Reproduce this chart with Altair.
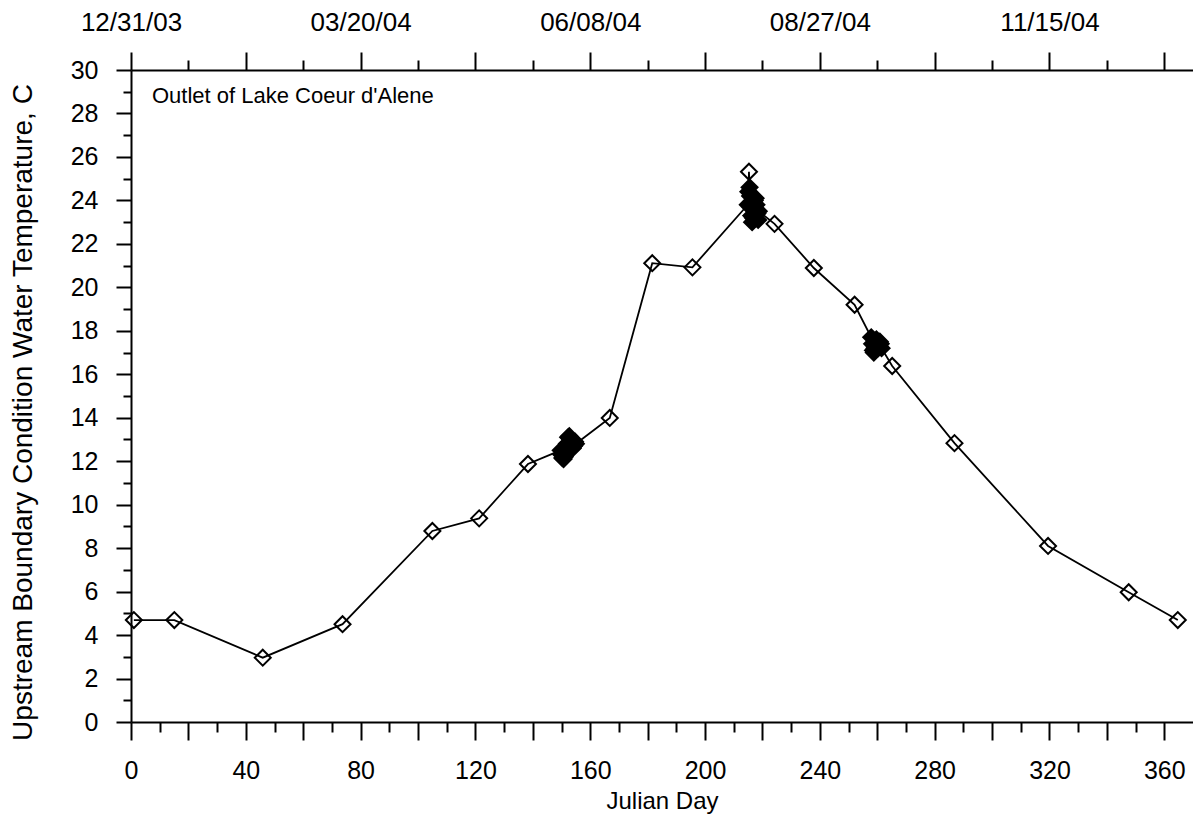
import altair as alt
import pandas as pd

# ---- data ----
spot_day = [1.0, 15.1, 45.9, 73.7, 105.0, 121.3, 138.3, 166.8, 181.6, 195.6,
            215.3, 224.2, 237.9, 252.1, 265.2, 286.9, 319.5, 347.6, 364.7]
spot_temp = [4.69, 4.69, 2.96, 4.50, 8.79, 9.37, 11.87, 13.99, 21.11, 20.92,
             25.32, 22.92, 20.89, 19.20, 16.38, 12.83, 8.10, 5.97, 4.69]

burst1_day = [149.7, 150.0, 150.3, 150.7, 151.1, 151.5, 151.9, 152.3, 152.7,
              153.1, 153.5, 153.9, 154.3, 154.7, 155.0]
burst1_temp = [12.5, 12.3, 12.15, 12.1, 12.2, 12.5, 12.8, 13.1, 13.15,
               13.0, 12.8, 12.6, 12.7, 12.9, 12.8]

burst2_day = [214.9, 215.1, 215.5, 215.7, 215.9, 216.1, 216.4, 216.7, 217.0,
              217.3, 217.6, 217.9, 218.2, 218.5, 218.7]
burst2_temp = [23.8, 24.4, 24.6, 24.2, 23.7, 23.3, 23.0, 23.2, 23.6,
               24.0, 24.1, 23.8, 23.4, 23.1, 23.5]

burst3_day = [257.9, 258.2, 258.5, 258.8, 259.1, 259.4, 259.7, 260.0, 260.3,
              260.6, 260.9, 261.2, 261.5]
burst3_temp = [17.7, 17.4, 17.1, 17.0, 17.2, 17.5, 17.6, 17.4, 17.2,
               17.3, 17.5, 17.4, 17.2]

top_tick_days = [0, 80, 160, 240, 320]
top_tick_labels = ["12/31/03", "03/20/04", "06/08/04", "08/27/04", "11/15/04"]

note_text = "Outlet of Lake Coeur d'Alene"
x_title = "Julian Day"
y_title = "Upstream Boundary Condition Water Temperature, C"

# ---- tables ----
spots = pd.DataFrame({"day": spot_day, "temp": spot_temp, "group": "spot"})
bursts = pd.concat([
    pd.DataFrame({"day": burst1_day, "temp": burst1_temp, "group": "burst"}),
    pd.DataFrame({"day": burst2_day, "temp": burst2_temp, "group": "burst"}),
    pd.DataFrame({"day": burst3_day, "temp": burst3_temp, "group": "burst"}),
], ignore_index=True)
allpts = pd.concat([spots, bursts], ignore_index=True).sort_values("day").reset_index(drop=True)

FONT = "Liberation Sans"
FS = 25
xscale = alt.Scale(domain=[0, 370], nice=False, zero=False)
yscale = alt.Scale(domain=[0, 30], nice=False, zero=True)

top_expr = ""
for d, lab in zip(top_tick_days, top_tick_labels):
    top_expr += f"datum.value == {d} ? '{lab}' : "
top_expr += "''"

line = alt.Chart(allpts).mark_line(color="black", strokeWidth=1.8).encode(
    x=alt.X("day:Q", scale=xscale, axis=alt.Axis(
        orient="bottom", values=list(range(0, 361, 20)), tickSize=18,
        labelExpr="datum.value % 40 == 0 ? datum.label : ''",
        labelPadding=18, title=x_title, titlePadding=6, titleFontSize=24)),
    y=alt.Y("temp:Q", scale=yscale, axis=alt.Axis(
        orient="left", values=list(range(0, 31, 2)), tickSize=15,
        labelPadding=18, title=y_title, titleFontSize=28, titlePadding=33,
        titleY=342, titleAlign="center")),
    order="day:Q",
)

spot_layer = alt.Chart(spots).mark_point(
    shape="diamond", size=256, filled=False, stroke="black", strokeWidth=2, opacity=1
).encode(
    x=alt.X("day:Q", scale=xscale, axis=alt.Axis(
        orient="bottom", values=list(range(10, 361, 20)), tickSize=10,
        labels=False, domain=False, title=None)),
    y=alt.Y("temp:Q", scale=yscale, axis=alt.Axis(
        orient="left", values=list(range(1, 30, 2)), tickSize=8,
        labels=False, domain=False, title=None)),
)

burst_layer = alt.Chart(bursts).mark_point(
    shape="diamond", size=256, filled=True, color="black", stroke="black",
    strokeWidth=2, opacity=1
).encode(
    x=alt.X("day:Q", scale=xscale, axis=alt.Axis(
        orient="top", values=list(range(0, 361, 40)), tickSize=18,
        labelExpr=top_expr, labelPadding=17, labelFontSize=26,
        title=None, domain=True)),
    y=alt.Y("temp:Q", scale=yscale, axis=None),
)

ghost = alt.Chart(spots).mark_point(opacity=0, size=1).encode(
    x=alt.X("day:Q", scale=xscale, axis=alt.Axis(
        orient="top", values=list(range(20, 361, 40)), tickSize=10,
        labels=False, domain=False, title=None)),
    y=alt.Y("temp:Q", scale=yscale, axis=None),
)

note = alt.Chart(pd.DataFrame({"label": [note_text]})).mark_text(
    align="left", baseline="alphabetic", fontSize=22, font=FONT, color="black"
).encode(x=alt.value(21), y=alt.value(33), text="label:N")

chart = alt.layer(line, spot_layer, burst_layer, ghost, note).resolve_axis(
    x="independent", y="independent"
).properties(
    width=1062, height=652,
    padding={"left": 131, "top": 70, "right": 0, "bottom": 95},
    autosize=alt.AutoSizeParams(type="none"),
    background="white",
).configure_view(stroke=None).configure_axis(
    domainColor="black", domainWidth=2, tickColor="black", tickWidth=2,
    labelColor="black", titleColor="black", labelFont=FONT, titleFont=FONT,
    labelFontSize=FS, titleFontSize=FS, titleFontWeight="normal", grid=False,
    labelFlush=False, labelOverlap=False, labelBound=False,
)

chart.save("out.html", embed_options={"renderer": "svg", "actions": False})
